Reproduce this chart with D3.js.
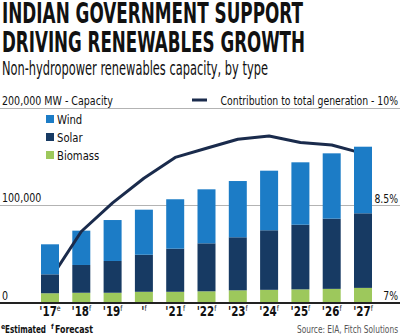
<!DOCTYPE html>
<meta charset="utf-8">
<style>
body {
  margin: 0;
  background-color: #fff;
}
text {
  font-family: "Liberation Sans Narrow", "DejaVu Sans Condensed", "Roboto", sans-serif;
  fill: #111;
}
.title {
  font-size: 29px;
  font-weight: bold;
}
.subtitle {
  font-size: 19px;
}
.label {
  font-size: 12px;
}
.tick-label {
  font-size: 13.5px;
  font-weight: bold;
}
.grid line {
  stroke: #b3b3b3;
  stroke-width: 1px;
  shape-rendering: crispEdges;
}
.baseline {
  stroke: #222;
  stroke-width: 2px;
}
.share-line {
  fill: none;
  stroke: #1a2b4c;
  stroke-width: 3px;
  stroke-linejoin: round;
}
</style>
<body>
<script src="https://d3js.org/d3.v7.min.js"></script>
<script>
// Indian non-hydro renewables capacity (MW) by type, plus share of total generation

var years    = ["2017", "2018", "2019", "2020", "2021", "2022", "2023", "2024", "2025", "2026", "2027"];
var yearTick = ["'17", "'18", "'19", "'", "'21", "'22", "'23", "'24", "'25", "'26", "'27"];
var yearMark = ["e", "f", "f", "f", "f", "f", "f", "f", "f", "f", "f"];

var biomass = [10000, 10500, 10500, 11500, 11500, 12000, 13000, 13500, 14000, 14500, 15500];
var solar   = [19400, 28500, 32600, 38000, 44200, 49200, 54400, 61100, 66300, 72000, 76500];
var wind    = [30800, 35200, 42000, 46200, 50700, 55400, 57700, 61100, 64000, 67000, 68300];

// contribution to total generation, %
var share = [7.36, 8.10, 8.54, 8.92, 9.24, 9.38, 9.52, 9.57, 9.47, 9.43, 9.30];

var capTicks   = [0, 100000, 200000];
var capLabels  = ["0", "100,000", "200,000 MW - Capacity"];
var shareTicks = [7, 8.5, 10];
var shareLabels = ["7%", "8.5%", "Contribution to total generation - 10%"];

var types  = ["biomass", "solar", "wind"];
var names  = {wind: "Wind", solar: "Solar", biomass: "Biomass"};
var colors = {wind: "#1c7cc6", solar: "#173a63", biomass: "#9dc85c"};

// the house face is a narrow one, so squeeze the fallback glyphs
function narrow(sel, k) {
  sel.each(function() {
    var w = this.getComputedTextLength();
    d3.select(this)
        .attr("textLength", w * k)
        .attr("lengthAdjust", "spacingAndGlyphs");
  });
}

var svg = d3.select("body").append("svg")
    .attr("width", 400)
    .attr("height", 335);

// headline
svg.append("text").attr("class", "title")
    .attr("x", 2).attr("y", 23)
    .attr("textLength", 301).attr("lengthAdjust", "spacingAndGlyphs")
    .text("INDIAN GOVERNMENT SUPPORT");
svg.append("text").attr("class", "title")
    .attr("x", 2).attr("y", 52)
    .attr("textLength", 303).attr("lengthAdjust", "spacingAndGlyphs")
    .text("DRIVING RENEWABLES GROWTH");
svg.append("text").attr("class", "subtitle")
    .attr("x", 2).attr("y", 75)
    .attr("textLength", 266).attr("lengthAdjust", "spacingAndGlyphs")
    .text("Non-hydropower renewables capacity, by type");

var x = d3.scaleBand()
    .domain(years)
    .range([34.35, 378.65])
    .paddingInner(0.425)
    .paddingOuter(0.2125);

var y = d3.scaleLinear().domain([0, 200000]).range([303, 108]);
var y2 = d3.scaleLinear().domain([7, 10]).range([303, 108]);

// gridlines across the full width
svg.append("g")
    .attr("class", "grid")
    .selectAll("line")
    .data(capTicks.slice(1))
    .join("line")
      .attr("x1", 0)
      .attr("x2", 400)
      .attr("y1", function(d) { return y(d); })
      .attr("y2", function(d) { return y(d); });

svg.append("g")
    .selectAll("text")
    .data(capTicks)
    .join("text")
      .attr("class", "label")
      .attr("x", 2)
      .attr("y", function(d) { return y(d) - 3.5; })
      .text(function(d, i) { return capLabels[i]; })
      .call(narrow, 0.88);

svg.append("g")
    .selectAll("text")
    .data(shareTicks)
    .join("text")
      .attr("class", "label")
      .attr("x", 398)
      .attr("y", function(d) { return y2(d) - 3; })
      .attr("text-anchor", "end")
      .text(function(d, i) { return shareLabels[i]; })
      .call(narrow, 0.86);

// legend dash for the share line
svg.append("line")
    .attr("x1", 192).attr("x2", 207)
    .attr("y1", 100).attr("y2", 100)
    .attr("stroke", "#1a2b4c")
    .attr("stroke-width", 3);

// stacked bars
var rows = years.map(function(yr, i) {
  return {year: yr, biomass: biomass[i], solar: solar[i], wind: wind[i]};
});
var stacked = d3.stack().keys(types)(rows);

svg.append("g")
    .selectAll("g")
    .data(stacked)
    .join("g")
      .attr("fill", function(d) { return colors[d.key]; })
    .selectAll("rect")
    .data(function(d) { return d; })
    .join("rect")
      .attr("x", function(d) { return x(d.data.year); })
      .attr("width", x.bandwidth())
      .attr("y", function(d) { return y(d[1]); })
      .attr("height", function(d) { return y(d[0]) - y(d[1]); });

// legend for bar types
var legend = svg.append("g")
    .selectAll("g")
    .data(types.slice().reverse())
    .join("g")
      .attr("transform", function(d, i) { return "translate(46," + (115 + i * 18) + ")"; });
legend.append("rect")
    .attr("width", 8).attr("height", 8)
    .attr("fill", function(d) { return colors[d]; });
legend.append("text")
    .attr("class", "label")
    .attr("x", 11).attr("y", 8.5)
    .style("font-size", "13px")
    .text(function(d) { return names[d]; })
    .call(narrow, 0.86);

// baseline
svg.append("line")
    .attr("class", "baseline")
    .attr("x1", 0).attr("x2", 400)
    .attr("y1", y(0)).attr("y2", y(0));

// share line, running between the first and last bars
var first = x(years[0]) + x.bandwidth(),
    last = x(years[years.length - 1]);
svg.append("clipPath")
    .attr("id", "between")
  .append("rect")
    .attr("x", first).attr("y", 0)
    .attr("width", last - first).attr("height", 335);

var line = d3.line()
    .x(function(d, i) { return x(years[i]) + x.bandwidth() / 2; })
    .y(function(d) { return y2(d); });

svg.append("path")
    .datum(share)
    .attr("class", "share-line")
    .attr("clip-path", "url(#between)")
    .attr("d", line);

// year labels with estimate/forecast marks
var ticks = svg.append("g")
    .selectAll("g")
    .data(years)
    .join("g")
      .attr("transform", function(d) {
        return "translate(" + (x(d) + x.bandwidth() / 2) + ",316) scale(0.85,1)";
      })
    .append("text")
      .attr("class", "tick-label")
      .attr("text-anchor", "middle");
ticks.append("tspan")
    .text(function(d, i) { return yearTick[i]; });
ticks.append("tspan")
    .attr("dy", -5)
    .style("font-size", "8px")
    .style("font-weight", "normal")
    .text(function(d, i) { return yearMark[i]; });

// footnotes: small raised key letter, then its meaning
var notes = [["e", "Estimated", 1, 41], ["f", "Forecast", 51, 38]];
var note = svg.append("g")
    .selectAll("g")
    .data(notes)
    .join("g")
      .attr("transform", function(d) { return "translate(" + d[2] + ",333)"; });
note.append("text")
    .attr("y", -4)
    .style("font-size", "7px")
    .style("font-weight", "bold")
    .text(function(d) { return d[0]; });
note.append("text")
    .attr("x", 4)
    .attr("textLength", function(d) { return d[3]; })
    .attr("lengthAdjust", "spacingAndGlyphs")
    .style("font-size", "11px")
    .style("font-weight", "bold")
    .text(function(d) { return d[1]; });

svg.append("text")
    .attr("x", 398).attr("y", 333)
    .attr("text-anchor", "end")
    .attr("textLength", 101).attr("lengthAdjust", "spacingAndGlyphs")
    .style("font-size", "11px")
    .style("fill", "#555")
    .text("Source: EIA, Fitch Solutions");
</script>
</body>
